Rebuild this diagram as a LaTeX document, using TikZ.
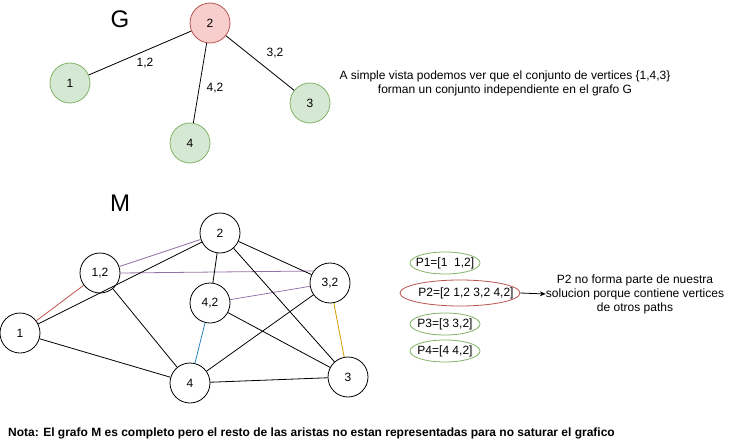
\documentclass[tikz,border=0pt]{standalone}
\usepackage{fontspec}
\setmainfont{Liberation Sans}
\usetikzlibrary{arrows.meta,shapes.geometric}
\definecolor{gfill}{HTML}{D5E8D4}
\definecolor{gline}{HTML}{82B366}
\definecolor{rfill}{HTML}{F8CECC}
\definecolor{rline}{HTML}{B85450}
\definecolor{purp}{HTML}{9673A6}
\definecolor{blu}{HTML}{1F7FBF}
\definecolor{orng}{HTML}{D79B00}
\begin{document}
\begin{tikzpicture}[x=1pt,y=-1pt,font=\fontsize{12}{14}\selectfont,
  vtx/.style={circle,draw,minimum size=40pt,inner sep=0pt,line width=0.8pt,fill=white},
  gv/.style={vtx,fill=gfill,draw=gline},
  rv/.style={vtx,fill=rfill,draw=rline},
  edge/.style={line width=0.8pt},
  pell/.style={ellipse,draw=gline,line width=0.8pt,minimum width=70pt,minimum height=22pt,inner sep=0pt},
  lbl/.style={inner sep=0pt},
  big/.style={font=\fontsize{24}{28}\selectfont}]
\useasboundingbox (0,0) rectangle (731,444);
% Graph G
\node[big] (Gl) at (120,19) {G};
\node[rv] (g2) at (210,23) {2};
\node[gv] (g1) at (70,83) {1};
\node[gv] (g4) at (190,143) {4};
\node[gv] (g3) at (310,103) {3};
\draw[edge] (g1) -- (g2);
\draw[edge] (g2) -- (g4);
\draw[edge] (g2) -- (g3);
\node[lbl] (l12) at (145,63) {1,2};
\node[lbl] (l42) at (215,88) {4,2};
\node[lbl] (l32) at (275,53) {3,2};
\node[align=center,inner sep=0pt] (txt) at (505,83) {A simple vista podemos ver que el conjunto de vertices \{1,4,3\}\\forman un conjunto independiente en el grafo G};
% Graph M
\node[big] (Ml) at (120,203) {M};
\node[vtx] (m2) at (220,233) {2};
\node[vtx] (m12) at (100,273) {1,2};
\node[vtx] (m32) at (330,283) {3,2};
\node[vtx] (m42) at (210,303) {4,2};
\node[vtx] (m1) at (20,333) {1};
\node[vtx] (m4) at (190,383) {4};
\node[vtx] (m3) at (348,377) {3};
\draw[edge,purp] (m12) -- (m2);
\draw[edge,purp] (m12.east) -- (m32.144);
\draw[edge,purp] (m42) -- (m32);
\draw[edge,rline] (m1) -- (m12);
\draw[edge,blu] (m4) -- (m42);
\draw[edge,orng] (m32) -- (m3);
\draw[edge] (m1) -- (m2);
\draw[edge] (m1) -- (m4);
\draw[edge] (m12) -- (m4);
\draw[edge] (m2) -- (m42);
\draw[edge] (m2) -- (m32);
\draw[edge] (m2) -- (m3);
\draw[edge] (m42) -- (m3);
\draw[edge] (m4) -- (m32);
\draw[edge] (m4) -- (m3);
% Paths
\node[pell] (p1) at (445,263) {};
\node[lbl] (t1) at (p1) {P1=[1\ \ 1,2]};
\node[pell,draw=rline,minimum width=120pt,minimum height=26pt] (p2) at (460,293) {};
\node[lbl] (t2) at (466,293) {P2=[2 1,2 3,2 4,2]};
\node[pell] (p3) at (445,324) {};
\node[lbl] (t3) at (p3) {P3=[3 3,2]};
\node[pell] (p4) at (445,351) {};
\node[lbl] (t4) at (p4) {P4=[4 4,2]};
\node[align=center,inner sep=0pt] (note2) at (635,294) {P2 no forma parte de nuestra\\solucion porque contiene vertices\\de otros paths};
\draw[edge,-{Stealth[length=6pt,width=5pt]}] (p2.east) -- (note2.west);
\node[anchor=west,inner sep=0pt,font=\bfseries\fontsize{12}{14}\selectfont] (nota) at (8,433) {Nota: El grafo M es completo pero el resto de las aristas no estan representadas para no saturar el grafico};
\end{tikzpicture}
\end{document}
